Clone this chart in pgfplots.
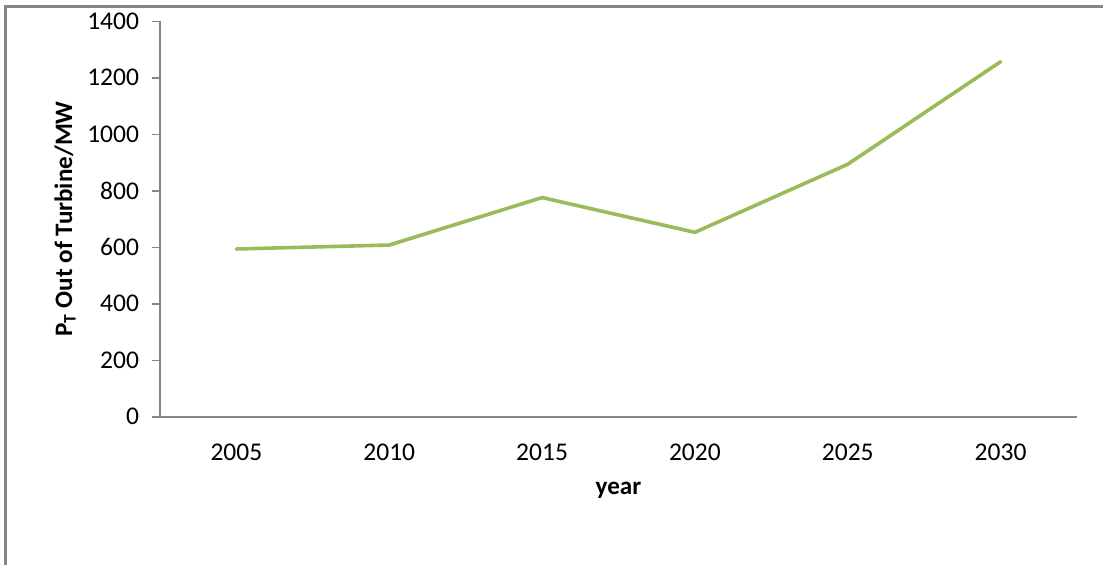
\documentclass[border=0pt]{standalone}
\usepackage{pgfplots}
\pgfplotsset{compat=1.18}
\usepackage{fontspec}
\setmainfont{Carlito}
\definecolor{linegreen}{HTML}{9BBB59}
\definecolor{axgray}{HTML}{868686}
\begin{document}
\begin{tikzpicture}
\useasboundingbox (-80bp,-74.1bp) rectangle (471.5bp,208.4bp);
\draw[axgray,line width=1.5bp] (-77bp,-80bp) -- (-77bp,204.9bp) -- (480bp,204.9bp);
\begin{axis}[
  at={(0,0)}, anchor=south west,
  scale only axis,
  width=458.5bp, height=197.75bp,
  xmin=-0.5, xmax=5.5,
  ymin=0, ymax=1400,
  ytick={0,200,...,1400},
  xtick={0,1,2,3,4,5},
  xticklabels={2005,2010,2015,2020,2025,2030},
  axis x line*=bottom,
  axis y line*=left,
  axis line style={axgray,line width=0.75bp,-},
  x axis line style={shorten <=-4bp},
  major x tick style={draw=none},
  major y tick style={axgray,line width=0.75bp},
  tick align=outside,
  major tick length=4bp,
  /pgf/number format/assume math mode=true,
  /pgf/number format/1000 sep={},
  tick label style={font=\fontsize{12.8}{15}\selectfont, text=black},
  yticklabel style={xshift=-3bp},
  xticklabel style={yshift=-6bp},
  xlabel={\textbf{year}},
  ylabel={\textbf{P\textsubscript{T} Out of Turbine/MW}},
  label style={font=\fontsize{12.6}{15}\selectfont},
  xlabel style={at={(axis description cs:0.5,0)}, anchor=center, yshift=-36.6bp},
  ylabel style={at={(axis description cs:0,0.5)}, anchor=center, rotate=0, yshift=47.5bp},
  clip=false,
]
\addplot[linegreen, line width=1.8bp, line cap=round, line join=round] coordinates {
  (0,594) (1,608) (2,776) (3,653) (4,894) (5,1257)
};
\end{axis}
\end{tikzpicture}
\end{document}
